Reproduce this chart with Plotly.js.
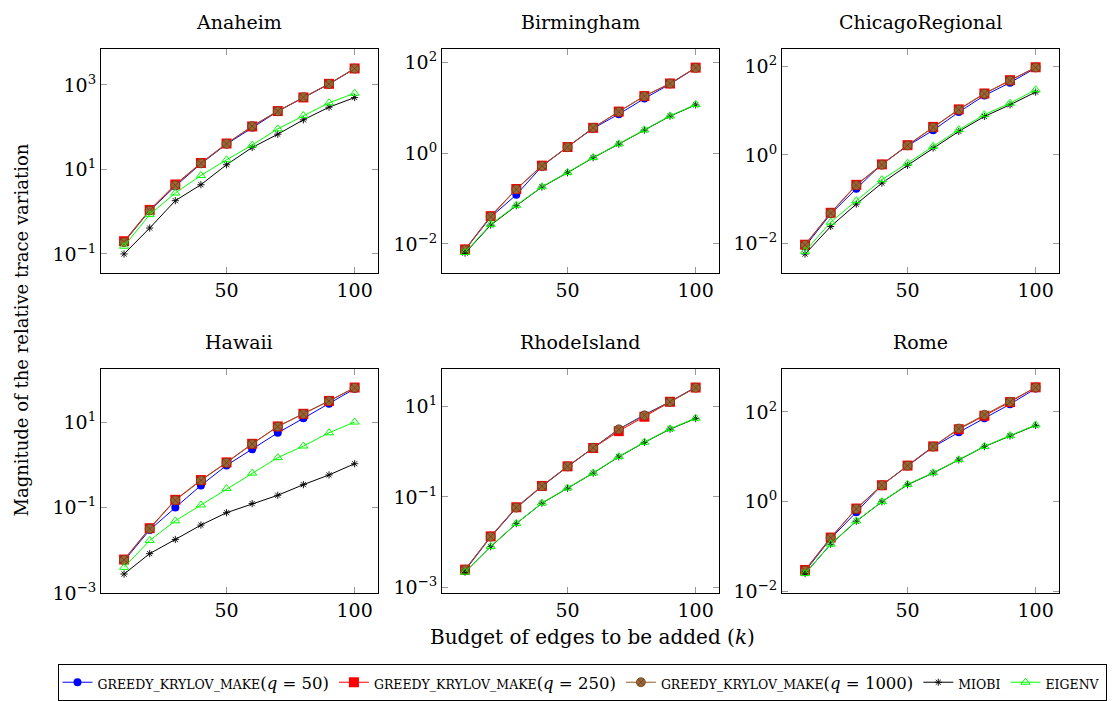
<!DOCTYPE html>
<html>
<head>
<meta charset="utf-8">
<script src="https://cdn.plot.ly/plotly-3.0.1.min.js"></script>
<style>
html,body{margin:0;padding:0;background:#fff;}
#chart{width:1117px;height:701px;}
</style>
</head>
<body>
<div id="chart"></div>
<script>
// ---------- data ----------
const budget = [10, 20, 30, 40, 50, 60, 70, 80, 90, 100];
const datasets = ["Anaheim", "Birmingham", "ChicagoRegional", "Hawaii", "RhodeIsland", "Rome"];

const anaheim_q50   = [0.19, 1.05, 4.0, 13.6, 39.5, 98, 236, 500, 1040, 2420];
const anaheim_q250  = [0.20, 1.10, 4.4, 14.2, 41, 104, 240, 505, 1060, 2450];
const anaheim_q1000 = [0.19, 1.07, 4.2, 13.9, 40.4, 106, 239, 512, 1056, 2432];
const anaheim_miobi = [0.10, 0.41, 1.82, 4.35, 12.9, 33, 68, 149, 297, 502];
const anaheim_eigenv= [0.152, 0.85, 2.76, 7.2, 16.9, 37.6, 91, 189, 376, 636];

const birmingham_q50   = [0.0074, 0.039, 0.121, 0.51, 1.38, 3.5, 7.2, 15.9, 33, 75];
const birmingham_q250  = [0.0076, 0.041, 0.162, 0.53, 1.36, 3.6, 8.2, 18.0, 34, 76];
const birmingham_q1000 = [0.0075, 0.040, 0.159, 0.52, 1.35, 3.6, 8.1, 17.9, 34, 75];
const birmingham_miobi = [0.0063, 0.026, 0.0695, 0.179, 0.37, 0.79, 1.58, 3.2, 6.5, 11.5];
const birmingham_eigenv= [0.0065, 0.027, 0.071, 0.182, 0.375, 0.80, 1.60, 3.25, 6.6, 11.7];

const chicago_q50   = [0.0085, 0.046, 0.172, 0.62, 1.60, 3.6, 9.3, 22, 43, 92];
const chicago_q250  = [0.0093, 0.049, 0.210, 0.61, 1.66, 4.3, 10.7, 24.5, 49, 96];
const chicago_q1000 = [0.0092, 0.048, 0.205, 0.60, 1.64, 4.2, 10.5, 24.1, 48, 95];
const chicago_miobi = [0.0057, 0.024, 0.077, 0.23, 0.58, 1.43, 3.4, 7.4, 13.6, 26.3];
const chicago_eigenv= [0.0066, 0.030, 0.092, 0.275, 0.65, 1.56, 3.7, 8.1, 14.8, 29.7];

const hawaii_q50   = [0.0057, 0.030, 0.100, 0.33, 0.97, 2.3, 5.6, 12.2, 26.9, 60];
const hawaii_q250  = [0.0061, 0.033, 0.152, 0.44, 1.14, 3.1, 7.9, 15.6, 31.2, 64];
const hawaii_q1000 = [0.0060, 0.032, 0.148, 0.43, 1.12, 3.06, 7.8, 15.4, 30.9, 63];
const hawaii_miobi = [0.0028, 0.0084, 0.018, 0.039, 0.076, 0.124, 0.194, 0.344, 0.58, 1.06];
const hawaii_eigenv= [0.0040, 0.017, 0.049, 0.115, 0.278, 0.64, 1.47, 2.75, 5.6, 10];

const rhode_q50   = [0.0024, 0.0130, 0.057, 0.170, 0.46, 1.20, 3.10, 6.4, 12.5, 26];
const rhode_q250  = [0.0025, 0.0135, 0.059, 0.174, 0.47, 1.19, 2.80, 5.8, 12.4, 25.5];
const rhode_q1000 = [0.0025, 0.0133, 0.058, 0.172, 0.47, 1.20, 3.06, 6.2, 12.3, 25.3];
const rhode_miobi = [0.0022, 0.0080, 0.0258, 0.0725, 0.155, 0.333, 0.76, 1.58, 3.1, 5.3];
const rhode_eigenv= [0.0022, 0.0081, 0.0260, 0.0730, 0.157, 0.336, 0.77, 1.60, 3.15, 5.4];

const rome_q50   = [0.028, 0.150, 0.58, 2.35, 6.2, 16.5, 35, 72, 148, 330];
const rome_q250  = [0.030, 0.158, 0.70, 2.32, 6.35, 17.0, 41, 82, 165, 352];
const rome_q1000 = [0.029, 0.156, 0.69, 2.30, 6.3, 16.8, 42.4, 86, 167, 350];
const rome_miobi = [0.0248, 0.112, 0.366, 0.99, 2.38, 4.33, 8.5, 16.8, 29, 50];
const rome_eigenv= [0.025, 0.113, 0.370, 1.00, 2.42, 4.40, 8.6, 17.0, 29.5, 51];

const SC = 'font-size:12.5px';
const seriesNames = [
  '<span style="' + SC + '">GREEDY_KRYLOV_MAKE</span>(<i>q</i> = 50)',
  '<span style="' + SC + '">GREEDY_KRYLOV_MAKE</span>(<i>q</i> = 250)',
  '<span style="' + SC + '">GREEDY_KRYLOV_MAKE</span>(<i>q</i> = 1000)',
  '<span style="' + SC + '">MIOBI</span>',
  '<span style="' + SC + '">EIGENV</span>'
];
const seriesData = [
  [anaheim_q50, anaheim_q250, anaheim_q1000, anaheim_miobi, anaheim_eigenv],
  [birmingham_q50, birmingham_q250, birmingham_q1000, birmingham_miobi, birmingham_eigenv],
  [chicago_q50, chicago_q250, chicago_q1000, chicago_miobi, chicago_eigenv],
  [hawaii_q50, hawaii_q250, hawaii_q1000, hawaii_miobi, hawaii_eigenv],
  [rhode_q50, rhode_q250, rhode_q1000, rhode_miobi, rhode_eigenv],
  [rome_q50, rome_q250, rome_q1000, rome_miobi, rome_eigenv]
];
const yTickExps = [[-1, 1, 3], [-2, 0, 2], [-2, 0, 2], [-3, -1, 1], [-3, -1, 1], [-2, 0, 2]];
const xTicks = [50, 100];

// ---------- styles ----------
const styles = [
  {line: {color: '#0000FF', width: 1}, marker: {symbol: 'circle', size: 8, color: '#0000FF'}},
  {line: {color: '#FF0000', width: 1}, marker: {symbol: 'square', size: 10, color: '#FF0000'}},
  {line: {color: '#8B5A2B', width: 1}, marker: {symbol: 'circle-x', size: 9, color: '#9C6634', line: {color: '#6A4020', width: 0.8}}},
  {line: {color: '#000000', width: 1}, marker: {symbol: 'asterisk-open', size: 6, color: '#000000', line: {color: '#000000', width: 0.9}}},
  {line: {color: '#00FF00', width: 1}, marker: {symbol: 'triangle-up-open', size: 8, color: '#00FF00', line: {color: '#00FF00', width: 1}}}
];

const W = 1117, H = 701;
const colPx = [[101, 377.7], [442, 718.7], [782, 1058.7]];
const rowPx = [[49.3, 273.3], [369.3, 594]];
const yRanges = [[-1.449, 3.844], [-2.637, 2.286], [-2.67, 2.39], [-3.0, 2.245], [-3.12, 1.82], [-2.04, 2.96]];
const serif = 'DejaVu Serif';

const traces = [];
const layout = {
  width: W, height: H,
  margin: {l: 0, r: 0, t: 0, b: 0},
  paper_bgcolor: '#ffffff', plot_bgcolor: '#ffffff',
  font: {family: serif, color: '#000', size: 18},
  showlegend: true,
  legend: {
    orientation: 'h', x: 582 / W, xanchor: 'center', y: 1 - 683 / H, yanchor: 'middle',
    bordercolor: '#000', borderwidth: 1, bgcolor: '#fff',
    font: {family: serif, size: 16.5, color: '#000'},
    itemwidth: 30, tracegroupgap: 0
  },
  annotations: []
};

function tickText(e) {
  return '10<sup>' + String(e).replace('-', '\u2212') + '</sup>';
}

datasets.forEach((name, i) => {
  const r = Math.floor(i / 3), c = i % 3;
  const xa = 'x' + (i === 0 ? '' : i + 1), ya = 'y' + (i === 0 ? '' : i + 1);
  const xkey = 'xaxis' + (i === 0 ? '' : i + 1), ykey = 'yaxis' + (i === 0 ? '' : i + 1);
  seriesData[i].forEach((ys, s) => {
    traces.push(Object.assign({
      type: 'scatter', mode: 'lines+markers',
      x: budget, y: ys, xaxis: xa, yaxis: ya,
      name: seriesNames[s], legendgroup: 's' + s, showlegend: i === 0,
      cliponaxis: false
    }, JSON.parse(JSON.stringify(styles[s]))));
  });
  layout[xkey] = {
    domain: [colPx[c][0] / W, colPx[c][1] / W],
    anchor: ya, range: [1, 109],
    tickmode: 'array', tickvals: xTicks, ticktext: xTicks.map(String),
    ticks: 'inside', ticklen: 6, tickcolor: '#999', tickwidth: 1,
    showline: true, linecolor: '#000', linewidth: 1, mirror: 'ticks',
    showgrid: false, zeroline: false,
    tickfont: {family: serif, size: 19, color: '#000'}
  };
  layout[ykey] = {
    domain: [1 - rowPx[r][1] / H, 1 - rowPx[r][0] / H],
    anchor: xa, type: 'log', range: yRanges[i],
    tickmode: 'array', tickvals: yTickExps[i].map(e => Math.pow(10, e)), ticktext: yTickExps[i].map(tickText),
    ticks: 'inside', ticklen: 6, tickcolor: '#999', tickwidth: 1,
    showline: true, linecolor: '#000', linewidth: 1, mirror: 'ticks',
    showgrid: false, zeroline: false,
    tickfont: {family: serif, size: 19, color: '#000'}
  };
  layout.annotations.push({
    text: name, xref: 'paper', yref: 'paper',
    x: (colPx[c][0] + colPx[c][1]) / 2 / W, y: 1 - (r === 0 ? 22 : 342) / H,
    xanchor: 'center', yanchor: 'middle', showarrow: false,
    font: {family: serif, size: 19, color: '#000'}
  });
});

layout.annotations.push({
  text: 'Budget of edges to be added (<i>k</i>)', xref: 'paper', yref: 'paper',
  x: 592 / W, y: 1 - 638 / H, xanchor: 'center', yanchor: 'middle', showarrow: false,
  font: {family: serif, size: 20, color: '#000'}
});
layout.annotations.push({
  text: 'Magnitude of the relative trace variation', xref: 'paper', yref: 'paper',
  x: 22 / W, y: 1 - 331 / H, xanchor: 'center', yanchor: 'middle', showarrow: false, textangle: -90,
  font: {family: serif, size: 18, color: '#000'}
});

Plotly.newPlot('chart', traces, layout, {displayModeBar: false, staticPlot: true});
</script>
</body>
</html>
